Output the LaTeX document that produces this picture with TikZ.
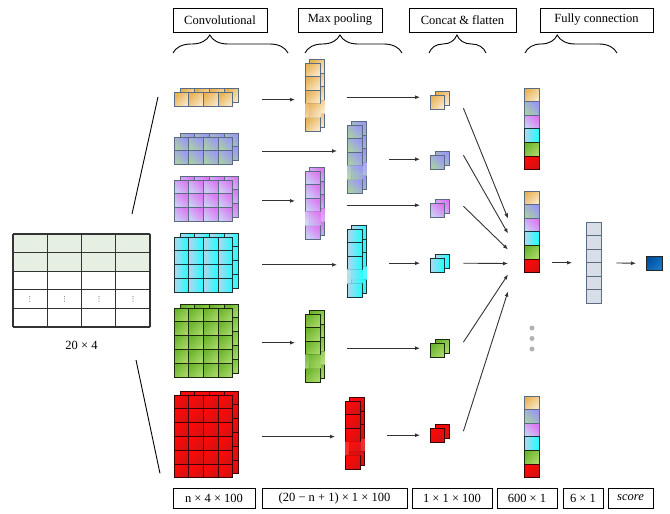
\documentclass[tikz,border=0pt]{standalone}
\usepackage{fontspec}
\setmainfont{Liberation Serif}
\newfontfamily\symfont{DejaVu Sans}
\usepackage{tikz}
\usetikzlibrary{positioning, arrows.meta, decorations.pathreplacing}

\definecolor{slate}{HTML}{5A6B82}
\definecolor{oraA}{HTML}{E8B357}
\definecolor{oraB}{HTML}{F9E6C4}
\definecolor{bluA}{HTML}{9A98F4}
\definecolor{bluB}{HTML}{A9CFA6}
\definecolor{vioA}{HTML}{DC78F2}
\definecolor{vioB}{HTML}{C9CFF5}
\definecolor{cyaA}{HTML}{1CFFFF}
\definecolor{cyaB}{HTML}{B6D4EE}
\definecolor{cyaD}{HTML}{163434}
\definecolor{grnA}{HTML}{6DB52E}
\definecolor{grnB}{HTML}{A6D866}
\definecolor{grnD}{HTML}{1B2A0B}
\definecolor{redA}{HTML}{FF0808}
\definecolor{redB}{HTML}{D41212}
\definecolor{redD}{HTML}{3C0000}
\definecolor{tabgreen}{HTML}{E5EFE2}
\definecolor{hidfill}{HTML}{D8DEE8}
\definecolor{scoreA}{HTML}{0050A0}
\definecolor{scoreB}{HTML}{1A78C8}
\definecolor{arrgray}{HTML}{333333}

% grid of cells: x, y, cols, rows, cell style
\newcommand{\cellgrid}[5]{%
  \foreach \i in {1,...,#3}{%
    \foreach \j in {1,...,#4}{%
      \draw[#5] ({#1+(\i-1)*14.7},{#2+(\j-1)*13.8}) rectangle ++(14.7,13.8);
    }}}
% conv feature map (two layers): name, x, y, rows, cell style
\newcommand{\convmap}[5]{%
  \cellgrid{#2+6}{#3-4}{4}{#4}{#5}%
  \cellgrid{#2}{#3}{4}{#4}{#5}%
  \pgfmathsetmacro\mapht{#4*13.8}%
  \node[anchor=north west, inner sep=0, minimum width=58.8pt, minimum height=\mapht pt] (#1) at (#2,#3) {};}
% pooled column, 4th cell faded: name, x, y, cell style
\newcommand{\poolmap}[4]{%
  \foreach \dx/\dy in {4.5/-3.5, 0/0}{%
    \foreach \j in {1,2,3,5}{%
      \draw[#4] ({#2+\dx},{#3+\dy+(\j-1)*13.6}) rectangle ++(15.3,13.6);}
    \path[#4sh, opacity=.85] ({#2+\dx},{#3+\dy+3*13.6}) rectangle ++(15.3,13.6);}%
  \node[anchor=north west, inner sep=0, minimum width=15.3pt, minimum height=68pt] (#1) at (#2,#3) {};}
% flattened value: name, x, y, cell style
\newcommand{\catmap}[4]{%
  \draw[#4] ({#2+5},{#3-3.5}) rectangle ++(14,14);
  \draw[#4] (#2,#3) rectangle ++(14,14);
  \node[anchor=north west, inner sep=0, minimum size=14pt] (#1) at (#2,#3) {};}
% 600x1 vector: name, x, y
\newcommand{\vecmap}[3]{%
  \foreach \s [count=\j] in {ocell,bcell,vcell,ccell,gcell,rcell}{%
    \draw[\s] (#2,{#3+(\j-1)*13.6}) rectangle ++(15,13.6);}
  \node[anchor=north west, inner sep=0, minimum width=15pt, minimum height=81.6pt] (#1) at (#2,#3) {};}

\begin{document}
\begin{tikzpicture}[
  x=1pt, y=-1pt,
  every node/.style={font=\fontsize{12.5}{14}\selectfont},
  lbl/.style={draw, line width=.8pt, minimum height=24pt, inner sep=2pt},
  dim/.style={draw, line width=.8pt, minimum height=20pt, inner sep=1pt},
  arr/.style={-{Latex[length=5pt,width=4pt]}, arrgray, line width=.9pt},
  brc/.style={decorate, line width=.9pt},
  tab/.style={line width=1.1pt, black!80},
  ocellsh/.style={top color=oraA, bottom color=oraB, shading angle=45},
  ocell/.style={ocellsh, draw=slate, line width=.9pt},
  bcellsh/.style={top color=bluA, bottom color=bluB, shading angle=-45},
  bcell/.style={bcellsh, draw=slate, line width=.9pt},
  vcellsh/.style={top color=vioA, bottom color=vioB, shading angle=-45},
  vcell/.style={vcellsh, draw=slate, line width=.9pt},
  ccellsh/.style={top color=cyaA, bottom color=cyaB, shading angle=-90},
  ccell/.style={ccellsh, draw=cyaD, line width=.9pt},
  gcellsh/.style={top color=grnA, bottom color=grnB, shading angle=45},
  gcell/.style={gcellsh, draw=grnD, line width=.9pt},
  rcellsh/.style={top color=redA, bottom color=redB, shading angle=45},
  rcell/.style={rcellsh, draw=redD, line width=.9pt},
  hcell/.style={fill=hidfill, draw=slate, line width=.9pt},
  dotn/.style={circle, fill=black!30, inner sep=0, minimum size=5pt}
]
\useasboundingbox (0,0) rectangle (670,514);

% Stage titles
\node[lbl, minimum width=94pt] (tconv) at (220,20) {Convolutional};
\node[lbl, minimum width=84pt] (tpool) at (340,20) {Max pooling};
\node[lbl, minimum width=107pt] (tcat) at (462.5,20) {Concat \& flatten};
\node[lbl, minimum width=113pt] (tfull) at (596.5,20) {Fully connection};
\draw[brc, decoration={brace, amplitude=18pt, aspect=.32}] (173,53) -- (288,53);
\draw[brc, decoration={brace, amplitude=18pt, aspect=.36}] (305,53) -- (402,53);
\draw[brc, decoration={brace, amplitude=18pt, aspect=.49}] (429,53) -- (486,53);
\draw[brc, decoration={brace, amplitude=18pt, aspect=.35}] (525,53) -- (617,53);

% Input matrix
\node[anchor=north west, inner sep=0, minimum width=137pt, minimum height=93pt] (inp) at (13,234) {};
\fill[tabgreen] (13,234) rectangle (150,271.2);
\foreach \y in {234,252.6,271.2,289.8,308.4,327} \draw[tab] (13,\y) -- (150,\y);
\foreach \x in {13,47.25,81.5,115.75,150} \draw[tab] (\x,234) -- (\x,327);
\foreach \x [count=\k] in {30,64.5,99,133} \node[font=\symfont\scriptsize, black!75] (vd\k) at (\x,299) {⋮};
\node (inpsize) at (81.5,345) {20 × 4};

% Convolution outputs
\convmap{c1}{174}{92.5}{1}{ocell}
\convmap{c2}{174}{137}{2}{bcell}
\convmap{c3}{174}{180}{3}{vcell}
\convmap{c4}{174}{237}{4}{ccell}
\convmap{c5}{174}{308}{5}{gcell}
\convmap{c6}{174}{395}{6}{rcell}
\coordinate (fanU) at (132,214);
\coordinate (fanD) at (136,360);
\draw[line width=.9pt] (fanU) -- ([xshift=-16pt, yshift=-4.5pt]c1.north west);
\draw[line width=.9pt] (fanD) -- ([xshift=-14pt, yshift=4.8pt]c6.south west);

% Max pooling
\poolmap{p1}{305}{63}{ocell}
\poolmap{p2}{347}{125}{bcell}
\poolmap{p3}{305}{171}{vcell}
\poolmap{p4}{347}{229}{ccell}
\poolmap{p5}{305}{314}{gcell}
\poolmap{p6}{345}{401}{rcell}

% Concat
\catmap{k1}{430}{95}{ocell}
\catmap{k2}{430}{155}{bcell}
\catmap{k3}{430}{203}{vcell}
\catmap{k4}{430}{258}{ccell}
\catmap{k5}{430}{343}{gcell}
\catmap{k6}{430}{428}{rcell}

% Fully connected part
\vecmap{v1}{524}{88}
\vecmap{v2}{524}{191}
\vecmap{v3}{524}{396}
\foreach \y [count=\k] in {328,338.5,349} \node[dotn] (gap\k) at (532,\y) {};
\foreach \j in {1,...,6} \draw[hcell] (586,{222+(\j-1)*13.5}) rectangle ++(15,13.5);
\node[anchor=north west, inner sep=0, minimum width=15pt, minimum height=81pt] (fc) at (586,222) {};
\node[anchor=north west, inner sep=0, minimum width=16pt, minimum height=14pt,
  top color=scoreA, bottom color=scoreB, shading angle=45, draw=black!85, line width=.9pt] (score) at (646,256) {};

% Arrows
\foreach \a/\b in {c1/p1,c2/p2,c3/p3,c4/p4,c5/p5,c6/p6}
  \draw[arr, shorten <=29pt, shorten >=10pt] (\a.east) -- (\a.east -| \b.west);
\foreach \a/\b in {p1/k1,p2/k2,p3/k3,p4/k4,p5/k5,p6/k6}
  \draw[arr, shorten <=26pt, shorten >=10pt] (\a.east) -- (\a.east -| \b.west);
\foreach \k/\sy/\dy in {k1/-6/13.5, k2/7/-1.5, k3/4/-17.5, k4/2/-31.5, k5/8/-42.5, k6/4/-59.5}
  \draw[arr] ([xshift=19pt, yshift=\sy pt]\k.east) -- ([xshift=-16pt, yshift=\dy pt]v2.west);
\draw[arr, shorten <=13pt, shorten >=14pt] (v2.east |- fc.west) -- (fc.west);
\draw[arr, shorten <=15pt, shorten >=10pt] (fc.east) -- (score.west);

% Sizes
\node[dim, minimum width=82pt] (sconv) at (214,498) {n × 4 × 100};
\node[dim, minimum width=145pt] (spool) at (334.5,498) {(20 − n + 1) × 1 × 100};
\node[dim, minimum width=80pt] (scat) at (452,498) {1 × 1 × 100};
\node[dim, minimum width=60pt] (svec) at (527,498) {600 × 1};
\node[dim, minimum width=40pt] (sfc) at (583,498) {6 × 1};
\node[dim, minimum width=45pt] (sscore) at (630.5,498) {\itshape score};
\end{tikzpicture}
\end{document}
